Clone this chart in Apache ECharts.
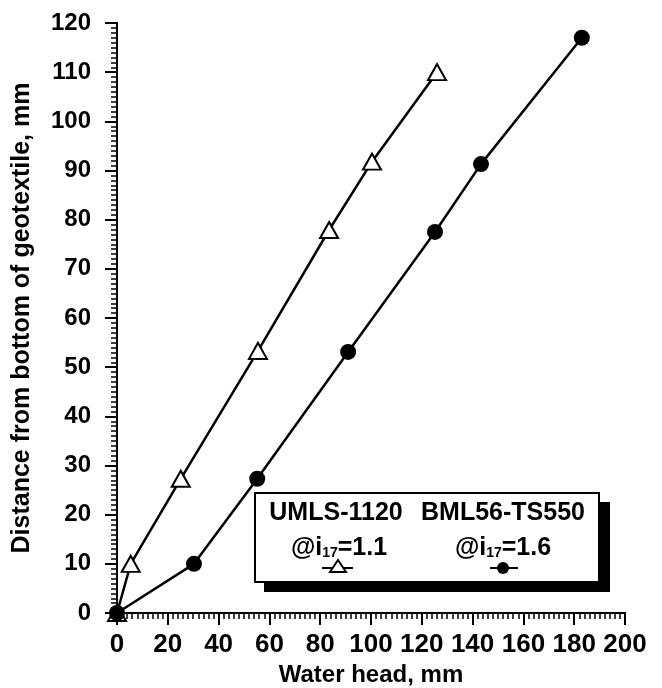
<!DOCTYPE html>
<html>
<head>
<meta charset="utf-8">
<script src="https://cdn.jsdelivr.net/npm/echarts@6/dist/echarts.min.js"></script>
<style>html,body{margin:0;padding:0;background:#fff;}#chart{width:662px;height:688px;}</style>
</head>
<body>
<div id="chart"></div>
<script>
// Data
var umlsX = [0, 5.4, 25.1, 55.5, 83.5, 100.4, 126];
var umlsY = [0, 10, 27.3, 53.3, 77.9, 91.8, 110];
var bmlX = [0, 30.3, 55.2, 91, 125.2, 143.3, 183];
var bmlY = [0, 10, 27.3, 53.1, 77.5, 91.3, 117];
var xTicks = [0, 20, 40, 60, 80, 100, 120, 140, 160, 180, 200];
var yTicks = [0, 10, 20, 30, 40, 50, 60, 70, 80, 90, 100, 110, 120];
var seriesNames = ['UMLS-1120', 'BML56-TS550'];
var legendValues = ['1.1', '1.6'];

function pairs(xs, ys) { return xs.map(function (x, i) { return [x, ys[i]]; }); }

var FONT = '"Liberation Sans", Arial, Helvetica, sans-serif';
var chart = echarts.init(document.getElementById('chart'), null, {renderer: 'canvas'});

function legendRich(val) {
  return {
    text: '{a|@i}{s|17}{a|=' + val + '}',
    rich: {
      a: {fontSize: 25, fontWeight: 'bold', fontFamily: FONT, fill: '#000'},
      s: {fontSize: 14, fontWeight: 'bold', fontFamily: FONT, fill: '#000', padding: [10, 0, 0, 0]}
    }
  };
}

var option = {
  backgroundColor: '#fff',
  animation: false,
  grid: {left: 117, right: 37, top: 23, bottom: 75, containLabel: false, outerBoundsMode: 'none'},
  xAxis: [{
    type: 'value', min: xTicks[0], max: xTicks[xTicks.length - 1], interval: 20,
    name: 'Water head, mm', nameLocation: 'middle', nameGap: 45,
    nameTextStyle: {fontSize: 24, fontWeight: 'bold', fontFamily: FONT, color: '#000'},
    axisLine: {show: true, onZero: false, lineStyle: {color: '#000', width: 2}},
    axisTick: {show: true, inside: false, length: 12, lineStyle: {color: '#000', width: 2}},
    minorTick: {show: true, splitNumber: 10, length: 6, lineStyle: {color: '#000', width: 1.5}},
    axisLabel: {margin: 19, fontSize: 26, fontWeight: 'bold', fontFamily: FONT, color: '#000'},
    splitLine: {show: false}
  }, {
    type: 'value', position: 'top', min: 0, max: 200,
    axisLine: {show: true, lineStyle: {color: '#000', width: 2}},
    axisTick: {show: false}, axisLabel: {show: false}, splitLine: {show: false}
  }],
  yAxis: [{
    type: 'value', min: yTicks[0], max: yTicks[yTicks.length - 1], interval: 10,
    name: 'Distance from bottom of geotextile, mm', nameLocation: 'middle', nameGap: 82,
    nameTextStyle: {fontSize: 25, fontWeight: 'bold', fontFamily: FONT, color: '#000'},
    axisLine: {show: true, onZero: false, lineStyle: {color: '#000', width: 2}},
    axisTick: {show: true, inside: false, length: 12, lineStyle: {color: '#000', width: 2}},
    minorTick: {show: true, splitNumber: 10, length: 6, lineStyle: {color: '#000', width: 1.5}},
    axisLabel: {margin: 26, fontSize: 24, fontWeight: 'bold', fontFamily: FONT, color: '#000'},
    splitLine: {show: false}
  }, {
    type: 'value', position: 'right', min: 0, max: 120,
    axisLine: {show: true, lineStyle: {color: '#000', width: 2}},
    axisTick: {show: false}, axisLabel: {show: false}, splitLine: {show: false}
  }],
  series: [{
    name: seriesNames[0], type: 'line', data: pairs(umlsX, umlsY),
    symbol: 'triangle', symbolSize: [18, 16], showAllSymbol: true,
    lineStyle: {color: '#000', width: 2.5},
    itemStyle: {color: '#fff', borderColor: '#000', borderWidth: 2},
    z: 3
  }, {
    name: seriesNames[1], type: 'line', data: pairs(bmlX, bmlY),
    symbol: 'circle', symbolSize: 16, showAllSymbol: true,
    lineStyle: {color: '#000', width: 2.5},
    itemStyle: {color: '#000', borderColor: '#000', borderWidth: 0},
    z: 4
  }],
  graphic: [
    {type: 'rect', z: 100, shape: {x: 264, y: 502, width: 346, height: 90}, style: {fill: '#000'}},
    {type: 'rect', z: 101, shape: {x: 255, y: 493, width: 344, height: 89}, style: {fill: '#fff', stroke: '#000', lineWidth: 2}},
    {type: 'text', z: 102, x: 336, y: 513, style: {text: seriesNames[0], fontSize: 25, fontWeight: 'bold', fontFamily: FONT, fill: '#000', align: 'center', verticalAlign: 'middle'}},
    {type: 'text', z: 102, x: 503, y: 513, style: {text: seriesNames[1], fontSize: 25, fontWeight: 'bold', fontFamily: FONT, fill: '#000', align: 'center', verticalAlign: 'middle'}},
    {type: 'text', z: 102, x: 339, y: 548, style: Object.assign(legendRich(legendValues[0]), {align: 'center', verticalAlign: 'middle'})},
    {type: 'text', z: 102, x: 503, y: 548, style: Object.assign(legendRich(legendValues[1]), {align: 'center', verticalAlign: 'middle'})},
    {type: 'line', z: 102, shape: {x1: 322, y1: 568, x2: 353, y2: 568}, style: {stroke: '#000', lineWidth: 2}},
    {type: 'polygon', z: 103, shape: {points: [[338, 560], [346, 572], [330, 572]]}, style: {fill: '#fff', stroke: '#000', lineWidth: 2}},
    {type: 'line', z: 102, shape: {x1: 490, y1: 568, x2: 518, y2: 568}, style: {stroke: '#000', lineWidth: 2}},
    {type: 'circle', z: 103, shape: {cx: 503, cy: 568, r: 6}, style: {fill: '#000'}}
  ]
};
chart.setOption(option);
</script>
</body>
</html>
